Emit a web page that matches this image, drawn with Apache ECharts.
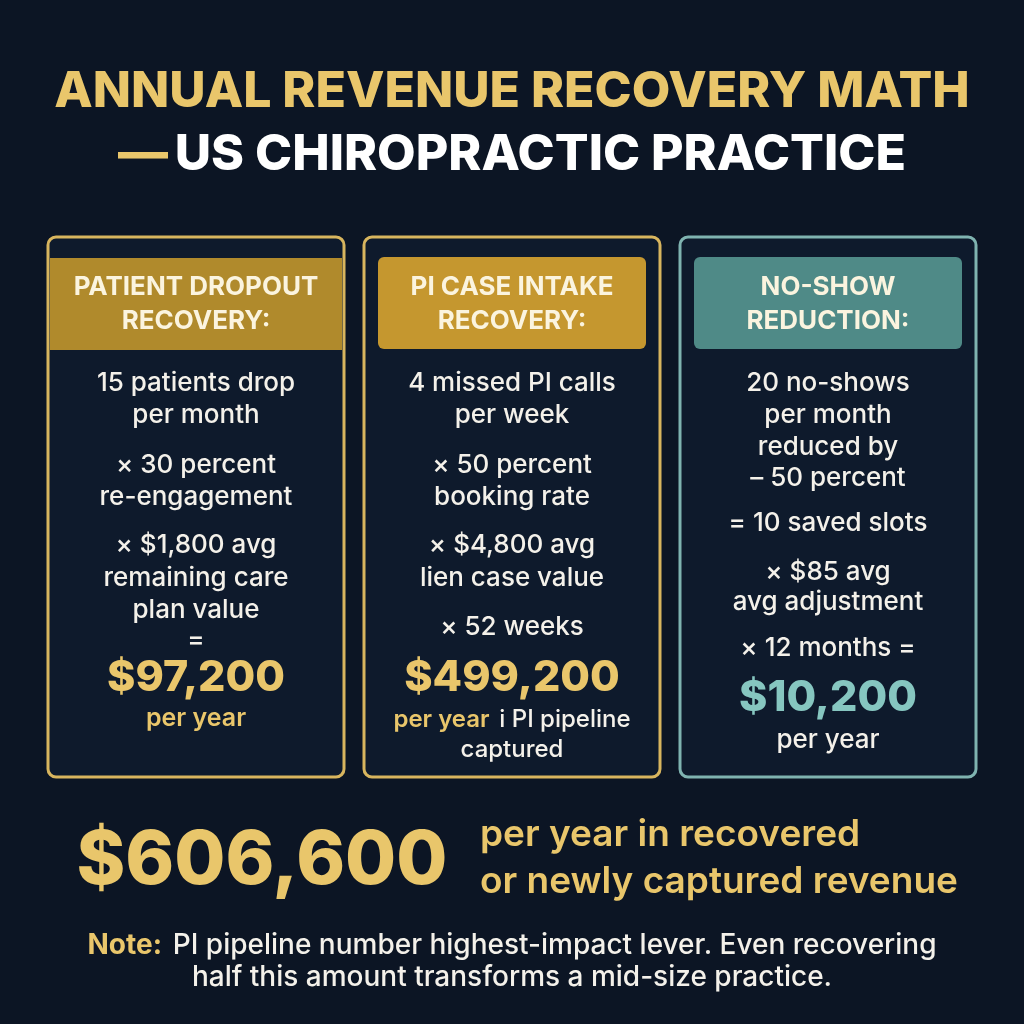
<!DOCTYPE html>
<html>
<head>
<meta charset="utf-8">
<script src="https://cdn.jsdelivr.net/npm/echarts@6/dist/echarts.min.js"></script>
<style>html,body{margin:0;padding:0;background:#0c1524}#chart{width:1024px;height:1024px}</style>
</head>
<body>
<div id="chart"></div>
<script>
var titleLine1 = 'ANNUAL REVENUE RECOVERY MATH';
var titleLine2 = 'US CHIROPRACTIC PRACTICE';
var cardTitles = [['PATIENT DROPOUT', 'RECOVERY:'], ['PI CASE INTAKE', 'RECOVERY:'], ['NO-SHOW', 'REDUCTION:']];
var cardLines = [
  ['15 patients drop', 'per month', '× 30 percent', 're-engagement', '× $1,800 avg', 'remaining care', 'plan value', '='],
  ['4 missed PI calls', 'per week', '× 50 percent', 'booking rate', '× $4,800 avg', 'lien case value', '× 52 weeks'],
  ['20 no-shows', 'per month', 'reduced by', '– 50 percent', '= 10 saved slots', '× $85 avg', 'avg adjustment', '× 12 months =']
];
var cardTotals = ['$97,200', '$499,200', '$10,200'];
var totalValue = '$606,600';
var totalText = ['per year in recovered', 'or newly captured revenue'];
var noteText = ['PI pipeline number highest-impact lever. Even recovering', 'half this amount transforms a mid-size practice.'];

var gold = '#e9c66b', teal = '#86c6c0', white = '#f4f1ea';
var font = 'Inter, "Noto Sans", sans-serif';
var lineY = [
  [383, 415, 465, 497, 545, 578, 610, 640],
  [383, 415, 465, 497, 545, 578, 627],
  [383, 415, 447, 478, 523, 572, 602, 648]
];
var cardX = [48, 364, 680];
var borders = ['#d8b55e', '#d8b55e', '#7fb3b0'];
var heads = ['#b08a2c', '#c5972f', '#4f8a87'];

function txt(x, y, s, size, color, weight) {
  return { type: 'text', x: x, y: y, style: { text: s, font: (weight || 500) + ' ' + size + 'px ' + font, fill: color, align: 'center', verticalAlign: 'middle' } };
}

var els = [];
els.push({ type: 'text', x: 512, y: 92, style: { text: titleLine1, font: '800 50px ' + font, fill: gold, align: 'center', verticalAlign: 'middle', shadowBlur: 14, shadowColor: 'rgba(233,198,107,0.45)' } });
els.push({ type: 'text', x: 512, y: 155, style: { text: '{g|—}  {w|' + titleLine2 + '}', align: 'center', verticalAlign: 'middle', rich: { g: { fill: gold, font: '800 50px ' + font }, w: { fill: '#ffffff', font: '800 50px ' + font } } } });

for (var c = 0; c < 3; c++) {
  var x0 = cardX[c], cx = x0 + 148;
  els.push({ type: 'rect', shape: { x: x0, y: 237, width: 296, height: 540, r: 8 }, style: { fill: '#0e1a2c', stroke: borders[c], lineWidth: 3 } });
  if (c === 0) els.push({ type: 'rect', shape: { x: x0 + 2, y: 258, width: 292, height: 92 }, style: { fill: heads[c] } });
  else els.push({ type: 'rect', shape: { x: x0 + 14, y: 257, width: 268, height: 92, r: 6 }, style: { fill: heads[c] } });
  els.push(txt(cx, 287, cardTitles[c][0], 26, '#fbf4df', 700));
  els.push(txt(cx, 321, cardTitles[c][1], 26, '#fbf4df', 700));
  for (var i = 0; i < cardLines[c].length; i++) els.push(txt(cx, lineY[c][i], cardLines[c][i], 26, white, 500));
}
els.push(txt(196, 678, cardTotals[0], 43, gold, 800));
els.push(txt(196, 718, 'per year', 25, gold, 600));
els.push(txt(512, 678, cardTotals[1], 43, gold, 800));
els.push({ type: 'text', x: 512, y: 720, style: { text: '{g|per year} {w| i PI pipeline}', align: 'center', verticalAlign: 'middle', rich: { g: { fill: gold, font: '600 24px ' + font }, w: { fill: white, font: '500 24px ' + font } } } });
els.push(txt(512, 750, 'captured', 24, white, 500));
els.push(txt(828, 698, cardTotals[2], 43, teal, 800));
els.push(txt(828, 740, 'per year', 26, white, 500));

els.push({ type: 'text', x: 262, y: 862, style: { text: totalValue, font: '800 74px ' + font, fill: gold, align: 'center', verticalAlign: 'middle', shadowBlur: 24, shadowColor: 'rgba(240,200,100,0.6)' } });
els.push({ type: 'text', x: 480, y: 835, style: { text: totalText[0], font: '600 37px ' + font, fill: gold, align: 'left', verticalAlign: 'middle' } });
els.push({ type: 'text', x: 480, y: 882, style: { text: totalText[1], font: '600 37px ' + font, fill: gold, align: 'left', verticalAlign: 'middle' } });
els.push({ type: 'text', x: 512, y: 946, style: { text: '{g|Note:} {w| ' + noteText[0] + '}', align: 'center', verticalAlign: 'middle', rich: { g: { fill: gold, font: '700 28px ' + font }, w: { fill: white, font: '500 28px ' + font } } } });
els.push(txt(512, 978, noteText[1], 28, white, 500));

var myChart = echarts.init(document.getElementById('chart'));
myChart.setOption({ backgroundColor: '#0c1524', graphic: { elements: els } });
</script>
</body>
</html>
